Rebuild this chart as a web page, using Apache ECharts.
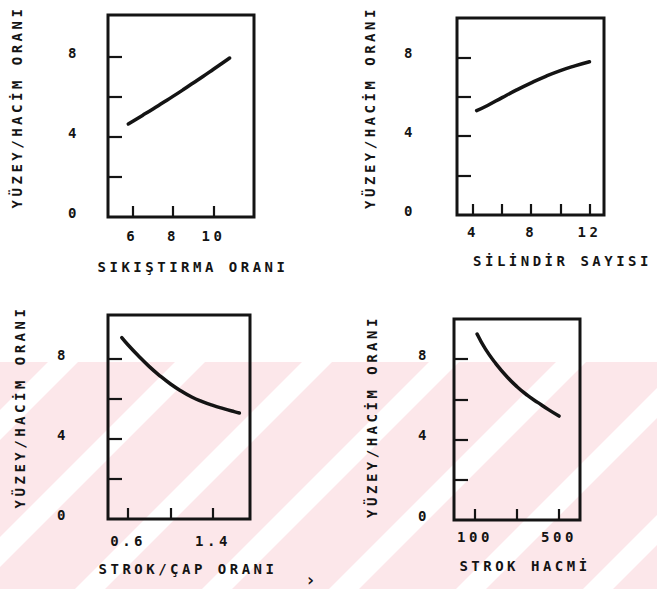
<!DOCTYPE html>
<html>
<head>
<meta charset="utf-8">
<script src="https://cdn.jsdelivr.net/npm/echarts@6/dist/echarts.min.js"></script>
<style>
  html, body { margin: 0; padding: 0; background: #ffffff; }
  #chart { width: 657px; height: 589px; }
  #chart text { letter-spacing: 3.5px; }
</style>
</head>
<body>
<div id="chart"></div>
<script>
// ---- Data ----
const yAxisTitle = 'YÜZEY/HACİM ORANI';

// Panel 1: Sıkıştırma oranı
const p1Name = 'SIKIŞTIRMA ORANI';
const p1X = [5.8, 6.5, 7, 7.5, 8, 8.5, 9, 9.5, 10, 10.5, 10.8];
const p1Y = [4.65, 5.08, 5.39, 5.71, 6.03, 6.36, 6.7, 7.04, 7.39, 7.74, 7.95];
const p1XTicks = [6, 8, 10];
const p1XLabels = [6, 8, 10];

// Panel 2: Silindir sayısı
const p2Name = 'SİLİNDİR SAYISI';
const p2X = [4.25, 5, 6, 7, 8, 9, 10, 11, 12];
const p2Y = [5.3, 5.56, 5.96, 6.35, 6.71, 7.04, 7.33, 7.57, 7.78];
const p2XTicks = [4, 6, 8, 10, 12];
const p2XLabels = [4, 8, 12];

// Panel 3: Strok/çap oranı
const p3Name = 'STROK/ÇAP ORANI';
const p3X = [0.54, 0.6, 0.7, 0.8, 0.9, 1.0, 1.1, 1.2, 1.3, 1.4, 1.5, 1.6, 1.65];
const p3Y = [9.07, 8.7, 8.14, 7.62, 7.16, 6.75, 6.4, 6.1, 5.87, 5.68, 5.52, 5.37, 5.3];
const p3XTicks = [0.6, 1.0, 1.4];
const p3XLabels = [0.6, 1.4];

// Panel 4: Strok hacmi
const p4Name = 'STROK HACMİ';
const p4X = [110, 150, 200, 250, 300, 350, 400, 450, 500];
const p4Y = [9.25, 8.5, 7.77, 7.15, 6.63, 6.2, 5.84, 5.49, 5.17];
const p4XTicks = [100, 300, 500];
const p4XLabels = [100, 500];

// Common y ticks / labels
const yTicks = [2, 4, 6, 8];
const yLabels = [0, 4, 8];

// ---- Styling ----
const INK = '#141414';
const FONT = 'DejaVu Sans Mono';
const txt = { color: INK, fontFamily: FONT, fontWeight: 'bold', fontSize: 14 };

const panels = [
  { grid: { left: 108, top: 15, width: 146, height: 202 },
    x: { min: 4.8, max: 12, ticks: p1XTicks, labels: p1XLabels, name: p1Name, gap: 43, shift: 24, margin: 12, fmt: v => String(v) },
    y: { max: 10.1, margin: 28, gap: 84, shift: 18 }, xs: p1X, ys: p1Y },
  { grid: { left: 457, top: 18, width: 147, height: 197 },
    x: { min: 2.9, max: 13, ticks: p2XTicks, labels: p2XLabels, name: p2Name, gap: 39, shift: 64, margin: 10, fmt: v => String(v) },
    y: { max: 10, margin: 41, gap: 80, shift: 18 }, xs: p2X, ys: p2Y },
  { grid: { left: 108, top: 315, width: 142, height: 204 },
    x: { min: 0.41, max: 1.75, ticks: p3XTicks, labels: p3XLabels, name: p3Name, gap: 43, shift: 18, margin: 15, fmt: v => v.toFixed(1) },
    y: { max: 10.2, margin: 39, gap: 81, shift: 20 }, xs: p3X, ys: p3Y },
  { grid: { left: 454, top: 319, width: 126, height: 201 },
    x: { min: 0, max: 600, ticks: p4XTicks, labels: p4XLabels, name: p4Name, gap: 39, shift: 16, margin: 10, fmt: v => String(v) },
    y: { max: 10, margin: 24, gap: 75, shift: 6 }, xs: p4X, ys: p4Y }
];

const grids = [], xAxes = [], yAxes = [], series = [];
panels.forEach((p, i) => {
  grids.push(Object.assign({ show: true, borderColor: INK, borderWidth: 3, backgroundColor: 'transparent', containLabel: false }, p.grid));
  xAxes.push({
    type: 'value', gridIndex: i, min: p.x.min, max: p.x.max,
    name: p.x.name, nameLocation: 'middle', nameGap: p.x.gap,
    nameTextStyle: Object.assign({}, txt, { padding: [0, 0, 0, p.x.shift] }),
    axisLine: { show: false },
    axisTick: { show: true, inside: true, length: 11, customValues: p.x.ticks, lineStyle: { color: INK, width: 2.2 } },
    axisLabel: Object.assign({}, txt, { customValues: p.x.labels, margin: p.x.margin, formatter: p.x.fmt }),
    splitLine: { show: false }
  });
  yAxes.push({
    type: 'value', gridIndex: i, min: 0, max: p.y.max,
    name: yAxisTitle, nameLocation: 'middle', nameGap: p.y.gap,
    nameTextStyle: Object.assign({}, txt, { padding: [0, 0, 0, p.y.shift] }),
    axisLine: { show: false },
    axisTick: { show: true, inside: true, length: 14, customValues: yTicks, lineStyle: { color: INK, width: 2.2 } },
    axisLabel: Object.assign({}, txt, { customValues: yLabels, margin: p.y.margin, verticalAlign: 'bottom', lineHeight: 9 }),
    splitLine: { show: false }
  });
  series.push({
    type: 'line', xAxisIndex: i, yAxisIndex: i,
    data: p.xs.map((x, k) => [x, p.ys[k]]),
    smooth: true, showSymbol: false, silent: true,
    lineStyle: { color: INK, width: 3.5, cap: 'round', join: 'round' }
  });
});

// Background watermark (decoration only): pink field with diagonal white bands
const PINK = '#fce7ea';
const wm = [{ type: 'rect', z: -100, silent: true, shape: { x: 0, y: 362, width: 657, height: 227 }, style: { fill: PINK } }];
const bandStarts = [-206, -79, 48, 175, 302, 429, 556, 683, 810];
bandStarts.forEach(s => {
  const w = 30, h = 227, top = 362;
  wm.push({ type: 'polygon', z: -99, silent: true,
    shape: { points: [[s, top], [s + w, top], [s + w - h, top + h], [s - h, top + h]] },
    style: { fill: '#ffffff' } });
});
wm.push({ type: 'text', z: 5, silent: true, left: 305, top: 570, style: { text: '›', fill: INK, font: 'bold 18px ' + FONT } });

const chart = echarts.init(document.getElementById('chart'), null, { renderer: 'svg', width: 657, height: 589 });
chart.setOption({
  animation: false,
  backgroundColor: '#ffffff',
  graphic: { elements: wm },
  grid: grids,
  xAxis: xAxes,
  yAxis: yAxes,
  series: series
});
</script>
</body>
</html>
